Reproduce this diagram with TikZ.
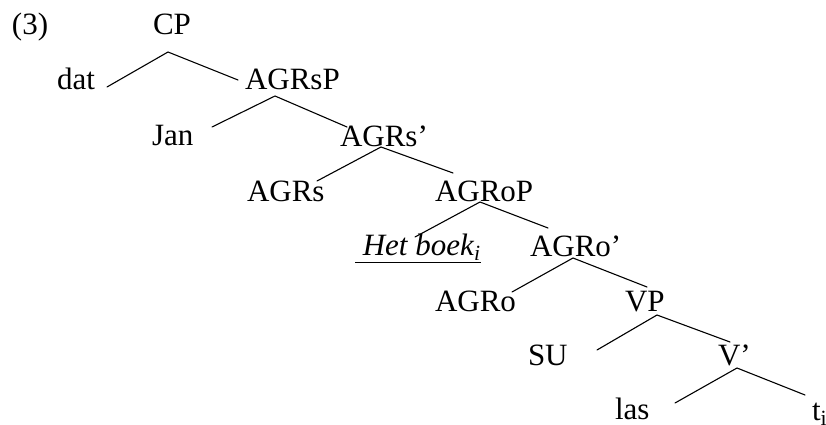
\documentclass[tikz,border=0pt]{standalone}
\usepackage{fontspec}
\setmainfont{Liberation Serif}
\begin{document}
\begin{tikzpicture}[x=1pt,y=-1pt,
  lbl/.style={anchor=base west,inner sep=0pt,outer sep=0pt,font=\fontsize{31}{36}\selectfont},
  branch/.style={line width=1.1pt,line cap=round}]
\useasboundingbox (0,0) rectangle (826,425);
% labels (placed by baseline)
\node[lbl] (ex)    at (12,35)   {(3)};
\node[lbl] (CP)    at (153,35)  {CP};
\node[lbl] (dat)   at (57,90)   {dat};
\node[lbl] (AGRsP) at (245,90)  {AGRsP};
\node[lbl] (Jan)   at (152,145) {Jan};
\node[lbl] (AGRsb) at (340,146) {AGRs’};
\node[lbl] (AGRs)  at (247,201) {AGRs};
\node[lbl] (AGRoP) at (435,201) {AGRoP};
\node[lbl] (boek)  at (355,255) {\underline{\ \textit{Het boek}\textsubscript{\textit{i}}}};
\node[lbl] (AGRob) at (530,256) {AGRo’};
\node[lbl] (AGRo)  at (435,311) {AGRo};
\node[lbl] (VP)    at (625,311) {VP};
\node[lbl] (SU)    at (528,365) {SU};
\node[lbl] (Vb)    at (718,365) {V’};
\node[lbl] (las)   at (615,419) {las};
\node[lbl] (ti)    at (812,420) {t\textsubscript{i}};
% branch points under each mother and ends beside each daughter
\coordinate (CP-f)    at (168,52);
\coordinate (dat-e)   at (107,87);
\coordinate (AGRsP-e) at (238,80);
\coordinate (AGRsP-f) at (275,96);
\coordinate (Jan-e)   at (212,127);
\coordinate (AGRsb-e) at (347,127);
\coordinate (AGRsb-f) at (381,147);
\coordinate (AGRs-e)  at (317,181);
\coordinate (AGRoP-e) at (453,173);
\coordinate (AGRoP-f) at (480,202);
\coordinate (boek-e)  at (415,237);
\coordinate (AGRob-e) at (548,228);
\coordinate (AGRob-f) at (573,258);
\coordinate (AGRo-e)  at (512,292);
\coordinate (VP-e)    at (647,287);
\coordinate (VP-f)    at (657,315);
\coordinate (SU-e)    at (597,350);
\coordinate (Vb-e)    at (730,342);
\coordinate (Vb-f)    at (737,368);
\coordinate (las-e)   at (675,403);
\coordinate (ti-e)    at (805,395);
% branches
\draw[branch] (dat-e) -- (CP-f) -- (AGRsP-e);
\draw[branch] (Jan-e) -- (AGRsP-f) -- (AGRsb-e);
\draw[branch] (AGRs-e) -- (AGRsb-f) -- (AGRoP-e);
\draw[branch] (boek-e) -- (AGRoP-f) -- (AGRob-e);
\draw[branch] (AGRo-e) -- (AGRob-f) -- (VP-e);
\draw[branch] (SU-e) -- (VP-f) -- (Vb-e);
\draw[branch] (las-e) -- (Vb-f) -- (ti-e);
\end{tikzpicture}
\end{document}
